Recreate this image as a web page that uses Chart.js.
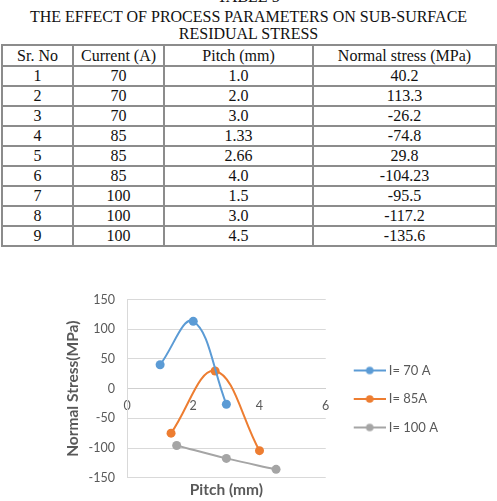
<!DOCTYPE html>
<html>
<head>
<meta charset="utf-8">
<script src="https://cdn.jsdelivr.net/npm/chart.js"></script>
<style>
  html, body { margin: 0; padding: 0; width: 497px; height: 501px; overflow: hidden; background: #fff; }
  .cap { position: absolute; left: 0; width: 497px; text-align: center; font-family: 'Liberation Serif', 'Times New Roman', serif; font-size: 16px; line-height: 16px; color: #111; white-space: nowrap; }
  #tbl { position: absolute; left: 1px; top: 44px; border-collapse: collapse; table-layout: fixed; font-family: 'Liberation Serif', 'Times New Roman', serif; font-size: 16px; color: #111; }
  #tbl td, #tbl th { border: 2px solid #8c8c8c; padding: 0; text-align: center; vertical-align: middle; font-weight: normal; line-height: 18px; }
  #chart { position: absolute; left: 55px; top: 280px; }
</style>
</head>
<body>
<div class="cap" style="top:-10.7px">TABLE 5</div>
<div class="cap" style="top:9.3px">THE EFFECT OF PROCESS PARAMETERS ON SUB-SURFACE</div>
<div class="cap" style="top:25.6px">RESIDUAL STRESS</div>
<table id="tbl">
  <colgroup><col style="width:71px"><col style="width:91px"><col style="width:149px"><col style="width:183px"></colgroup>
  <thead><tr id="hdr" style="height:21px"></tr></thead>
  <tbody id="body"></tbody>
</table>
<canvas id="chart" width="442" height="240" style="width:442px;height:240px"></canvas>
<script>
// ---- data ----
const tableHeaders = ['Sr. No', 'Current (A)', 'Pitch (mm)', 'Normal stress (MPa)'];
const srNo = ['1', '2', '3', '4', '5', '6', '7', '8', '9'];
const currentA = ['70', '70', '70', '85', '85', '85', '100', '100', '100'];
const pitchMm = ['1.0', '2.0', '3.0', '1.33', '2.66', '4.0', '1.5', '3.0', '4.5'];
const normalStress = ['40.2', '113.3', '-26.2', '-74.8', '29.8', '-104.23', '-95.5', '-117.2', '-135.6'];
const rowHeights = [20, 20, 20, 19, 20, 20, 19, 20, 19];

const seriesCurrents = ['70', '85', '100'];
const seriesLabels = ['I= 70 A', 'I= 85A', 'I= 100 A'];
const seriesColors = ['#5B9BD5', '#ED7D31', '#A5A5A5'];
const xAxisTitle = 'Pitch (mm)';
const yAxisTitle = 'Normal Stress(MPa)';

// ---- table ----
const hdr = document.getElementById('hdr');
tableHeaders.forEach(h => { const th = document.createElement('th'); th.textContent = h; hdr.appendChild(th); });
const body = document.getElementById('body');
srNo.forEach((s, i) => {
  const tr = document.createElement('tr');
  tr.style.height = rowHeights[i] + 'px';
  [s, currentA[i], pitchMm[i], normalStress[i]].forEach(v => {
    const td = document.createElement('td'); td.textContent = v; tr.appendChild(td);
  });
  body.appendChild(tr);
});

// ---- chart ----
const fontFam = "Lato, 'Open Sans', sans-serif";
const grey = '#595959';

function legendIcon(color) {
  const c = document.createElement('canvas');
  c.width = 48; c.height = 12;
  const g = c.getContext('2d');
  g.strokeStyle = color; g.lineWidth = 2;
  g.beginPath(); g.moveTo(16, 6); g.lineTo(48, 6); g.stroke();
  g.fillStyle = color;
  g.beginPath(); g.arc(32, 6, 3.8, 0, Math.PI * 2); g.fill();
  return c;
}
const icons = seriesColors.map(legendIcon);

const datasets = seriesCurrents.map((cur, k) => {
  const pts = [];
  currentA.forEach((c, i) => { if (c === cur) pts.push({ x: parseFloat(pitchMm[i]), y: parseFloat(normalStress[i]) }); });
  return {
    label: seriesLabels[k],
    data: pts,
    showLine: true,
    tension: 0.4,
    borderColor: seriesColors[k],
    backgroundColor: seriesColors[k],
    borderWidth: 2,
    pointRadius: 4.5,
    pointBorderWidth: 0,
    pointBackgroundColor: seriesColors[k]
  };
});

new Chart(document.getElementById('chart'), {
  type: 'scatter',
  data: { datasets },
  options: {
    responsive: false,
    animation: false,
    devicePixelRatio: 1,
    layout: { padding: { top: 13, left: 5, right: 49, bottom: 15 } },
    scales: {
      x: {
        type: 'linear',
        position: { y: 0 },
        min: 0, max: 6,
        ticks: { stepSize: 2, padding: 10, color: grey, font: { family: fontFam, size: 12.5 } },
        grid: { display: false, drawTicks: false },
        border: { display: true, color: '#CFCFCF', width: 1 }
      },
      y: {
        type: 'linear',
        min: -150, max: 150,
        ticks: { stepSize: 50, padding: 12, color: grey, font: { family: fontFam, size: 12.5 } },
        grid: { color: '#D9D9D9', drawTicks: false },
        border: { display: true, color: '#D9D9D9', width: 1 },
        title: { display: true, text: yAxisTitle, color: grey, font: { family: fontFam, size: 15.5, weight: 'bold' }, padding: { top: 3.2, bottom: 0 } },
        afterFit: s => { s.width = 67; }
      }
    },
    plugins: {
      tooltip: { enabled: false },
      legend: {
        position: 'right',
        maxWidth: 200,
        labels: {
          usePointStyle: true,
          pointStyleWidth: 41,
          padding: 15.5,
          color: grey,
          font: { family: fontFam, size: 13 },
          generateLabels: chart => Chart.defaults.plugins.legend.labels.generateLabels(chart).map((l, i) => Object.assign(l, { pointStyle: icons[i] }))
        }
      },
      title: {
        display: true,
        position: 'bottom',
        fullSize: false,
        text: xAxisTitle,
        color: grey,
        font: { family: fontFam, size: 15.5, weight: 'bold' },
        padding: { top: 3, bottom: 5.5 }
      }
    }
  }
});
</script>
</body>
</html>
